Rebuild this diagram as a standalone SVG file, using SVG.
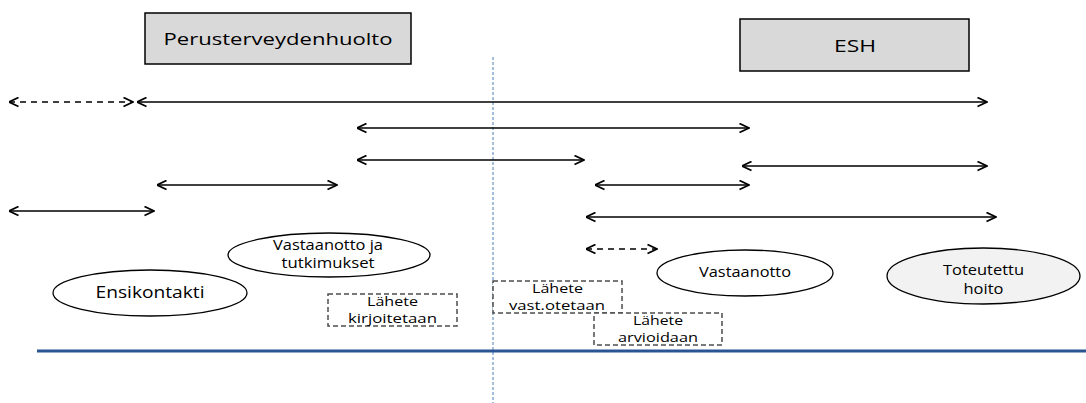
<svg xmlns="http://www.w3.org/2000/svg" width="1086" height="403" viewBox="0 0 1086 403">
<defs>
<marker id="ah" viewBox="0 0 11 11" refX="10.5" refY="5.5" markerWidth="11" markerHeight="11" markerUnits="userSpaceOnUse" orient="auto-start-reverse">
<path d="M1,1 L10.5,5.5 L1,10" fill="none" stroke="#000" stroke-width="1.8"/>
</marker>
<style>
.hdr{fill:#d9d9d9;stroke:#000;stroke-width:1.5}
.ell{fill:#fff;stroke:#000;stroke-width:1.3}
.ell2{fill:#f2f2f2;stroke:#000;stroke-width:1.3}
.dbox{fill:#fff;stroke:#4d4d4d;stroke-width:1.5;stroke-dasharray:5 3}
.arr{stroke:#000;stroke-width:1.6;fill:none;marker-start:url(#ah);marker-end:url(#ah)}
.dash{stroke-dasharray:6 5}
text{font-family:"Open Sans","DejaVu Sans",sans-serif;fill:#000;text-anchor:middle}
.t17{font-size:17px}
.t16{font-size:16px}
.t14{font-size:14px}
.t13{font-size:13px}
</style>
</defs>
<rect width="1086" height="403" fill="#fff"/>
<line x1="493" y1="57" x2="493" y2="403" stroke="#4a7ebb" stroke-width="1" stroke-dasharray="3 2"/>
<line x1="37" y1="351" x2="1086" y2="351" stroke="#2a5592" stroke-width="3"/>
<g id="connectors">
<line class="arr dash" x1="9" y1="102" x2="133" y2="102"/>
<line class="arr" x1="137" y1="102" x2="987" y2="102"/>
<line class="arr" x1="357" y1="128" x2="749" y2="128"/>
<line class="arr" x1="357" y1="160" x2="584" y2="160"/>
<line class="arr" x1="742" y1="166" x2="987" y2="166"/>
<line class="arr" x1="157" y1="185" x2="337" y2="185"/>
<line class="arr" x1="595" y1="185" x2="749" y2="185"/>
<line class="arr" x1="9" y1="211" x2="154" y2="211"/>
<line class="arr" x1="586" y1="217" x2="996" y2="217"/>
<line class="arr dash" x1="586" y1="249" x2="657" y2="249"/>
</g>
<g id="perusterveydenhuolto">
<rect class="hdr" x="145" y="13" width="266" height="51"/>
<text class="t17" x="278" y="45" textLength="229" lengthAdjust="spacingAndGlyphs">Perusterveydenhuolto</text>
</g>
<g id="esh">
<rect class="hdr" x="740" y="19" width="229" height="52"/>
<text class="t17" x="855" y="52" textLength="42" lengthAdjust="spacingAndGlyphs">ESH</text>
</g>
<g id="ensikontakti">
<ellipse class="ell" cx="150" cy="293" rx="97" ry="23"/>
<text class="t16" x="150" y="298" textLength="109" lengthAdjust="spacingAndGlyphs">Ensikontakti</text>
</g>
<g id="vastaanotto-ja-tutkimukset">
<ellipse class="ell" cx="329" cy="255" rx="101" ry="22"/>
<text class="t14" x="328" y="250" textLength="110" lengthAdjust="spacingAndGlyphs">Vastaanotto ja</text>
<text class="t14" x="328" y="268" textLength="93" lengthAdjust="spacingAndGlyphs">tutkimukset</text>
</g>
<g id="vastaanotto">
<ellipse class="ell" cx="745" cy="273" rx="88" ry="23"/>
<text class="t14" x="745" y="277" textLength="92" lengthAdjust="spacingAndGlyphs">Vastaanotto</text>
</g>
<g id="toteutettu-hoito">
<ellipse class="ell2" cx="983.5" cy="276" rx="96.5" ry="28"/>
<text class="t14" x="983.5" y="275" textLength="81" lengthAdjust="spacingAndGlyphs">Toteutettu</text>
<text class="t14" x="983.5" y="294" textLength="40" lengthAdjust="spacingAndGlyphs">hoito</text>
</g>
<g id="lahete-kirjoitetaan">
<rect class="dbox" x="328" y="294" width="129" height="32"/>
<text class="t13" x="392.5" y="306" textLength="51" lengthAdjust="spacingAndGlyphs">Lähete</text>
<text class="t13" x="392.5" y="323" textLength="89" lengthAdjust="spacingAndGlyphs">kirjoitetaan</text>
</g>
<g id="lahete-vastotetaan">
<rect class="dbox" x="493" y="281" width="129" height="32"/>
<text class="t13" x="557.5" y="293" textLength="51" lengthAdjust="spacingAndGlyphs">Lähete</text>
<text class="t13" x="557" y="310" textLength="96" lengthAdjust="spacingAndGlyphs">vast.otetaan</text>
</g>
<g id="lahete-arvioidaan">
<rect class="dbox" x="594" y="313" width="128" height="32"/>
<text class="t13" x="658" y="325" textLength="50" lengthAdjust="spacingAndGlyphs">Lähete</text>
<text class="t13" x="658" y="342" textLength="80" lengthAdjust="spacingAndGlyphs">arvioidaan</text>
</g>
</svg>
